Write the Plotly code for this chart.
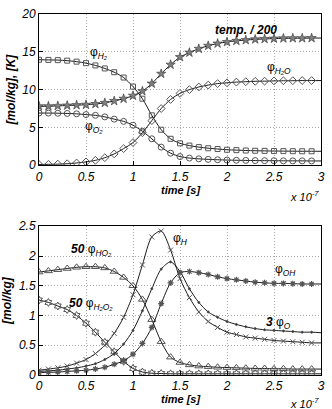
import plotly.graph_objects as go

# time axis, in units of 1e-7 s
time = [0.0, 0.1, 0.2, 0.3, 0.4, 0.5, 0.6, 0.7, 0.8, 0.9, 1.0, 1.1, 1.2, 1.3, 1.4, 1.5,
        1.6, 1.7, 1.8, 1.9, 2.0, 2.1, 2.2, 2.3, 2.4, 2.5, 2.6, 2.7, 2.8, 2.9, 3.0]
x_ticks = [0, 0.5, 1, 1.5, 2, 2.5, 3]
x_ticktext = ['0', '0.5', '1', '1.5', '2', '2.5', '3']

# top panel
temp_200 = [7.8, 7.8, 7.85, 7.9, 7.95, 8.0, 8.1, 8.25, 8.5, 8.8, 9.2, 9.8, 10.8, 12.1, 13.3, 14.3,
            14.9, 15.4, 15.8, 16.1, 16.3, 16.45, 16.55, 16.65, 16.7, 16.75, 16.78, 16.8, 16.8, 16.82, 16.82]
phi_h2 = [13.95, 13.93, 13.9, 13.83, 13.7, 13.5, 13.2, 12.8, 12.3, 11.6, 10.4, 8.8, 6.6, 4.7, 3.5, 2.9,
          2.6, 2.4, 2.25, 2.15, 2.05, 2.0, 1.95, 1.92, 1.9, 1.88, 1.87, 1.86, 1.85, 1.85, 1.85]
phi_o2 = [6.9, 6.9, 6.88, 6.85, 6.8, 6.7, 6.6, 6.4, 6.1, 5.8, 5.3, 4.5, 3.5, 2.4, 1.6, 1.15,
          0.95, 0.85, 0.78, 0.73, 0.69, 0.66, 0.64, 0.62, 0.61, 0.6, 0.59, 0.58, 0.58, 0.57, 0.57]
phi_h2o = [0.1, 0.12, 0.15, 0.2, 0.3, 0.45, 0.65, 1.0, 1.5, 2.2, 3.0, 4.3, 5.9, 7.5, 8.7, 9.5,
           10.0, 10.35, 10.6, 10.8, 10.9, 11.0, 11.05, 11.1, 11.12, 11.15, 11.17, 11.18, 11.2, 11.2, 11.2]

# bottom panel
phi_h = [0.08, 0.1, 0.12, 0.15, 0.2, 0.26, 0.36, 0.5, 0.7, 0.97, 1.35, 1.85, 2.32, 2.42, 2.1, 1.62,
         1.3, 1.06, 0.9, 0.8, 0.72, 0.68, 0.64, 0.62, 0.6, 0.58, 0.57, 0.56, 0.55, 0.54, 0.54]
three_phi_o = [0.06, 0.07, 0.08, 0.1, 0.12, 0.15, 0.19, 0.26, 0.36, 0.52, 0.75, 1.08, 1.45, 1.78, 1.9, 1.74,
               1.45, 1.22, 1.06, 0.97, 0.9, 0.85, 0.81, 0.78, 0.76, 0.75, 0.74, 0.73, 0.72, 0.72, 0.71]
phi_oh = [0.04, 0.045, 0.05, 0.06, 0.07, 0.08, 0.1, 0.13, 0.18, 0.24, 0.35, 0.53, 0.8, 1.2, 1.55, 1.72,
          1.74, 1.72, 1.69, 1.65, 1.62, 1.6, 1.58, 1.56, 1.55, 1.54, 1.54, 1.535, 1.53, 1.53, 1.53]
phi_ho2_50 = [1.73, 1.75, 1.77, 1.79, 1.81, 1.82, 1.82, 1.8, 1.74, 1.64, 1.5, 1.27, 0.93, 0.56, 0.3, 0.21,
              0.17, 0.15, 0.14, 0.13, 0.125, 0.12, 0.115, 0.11, 0.11, 0.105, 0.105, 0.1, 0.1, 0.1, 0.1]
phi_h2o2_50 = [1.26, 1.22, 1.16, 1.1, 1.0, 0.87, 0.72, 0.55, 0.39, 0.23, 0.11, 0.05, 0.03, 0.025, 0.02, 0.02,
               0.02, 0.02, 0.02, 0.02, 0.02, 0.02, 0.02, 0.02, 0.02, 0.02, 0.02, 0.02, 0.02, 0.02, 0.02]

FONT = 'Liberation Sans, Arial, sans-serif'
MARKER_GREY = '#555555'

fig = go.Figure()


def add_series(y, symbol, size, xaxis, yaxis, fill=None, edge=MARKER_GREY, edge_w=1):
    """Smooth black line through all points, grey markers on all but the last."""
    fig.add_trace(go.Scatter(
        x=time, y=y, mode='lines', xaxis=xaxis, yaxis=yaxis,
        line=dict(color='black', width=0.9, shape='spline', smoothing=0.8),
        showlegend=False, hoverinfo='skip'))
    fig.add_trace(go.Scatter(
        x=time[:-1], y=y[:-1], mode='markers', xaxis=xaxis, yaxis=yaxis,
        marker=dict(symbol=symbol, size=size, color=fill or MARKER_GREY,
                    line=dict(color=edge, width=edge_w)),
        showlegend=False))


add_series(temp_200, 'star', 7, 'x', 'y', fill='#808080', edge='#333333', edge_w=0.6)
add_series(phi_h2, 'square-open', 5, 'x', 'y')
add_series(phi_o2, 'circle-open', 6, 'x', 'y')
add_series(phi_h2o, 'diamond-open', 6, 'x', 'y')

add_series(phi_h2o2_50, 'hexagram-open', 6, 'x2', 'y2')
add_series(phi_ho2_50, 'triangle-up-open', 7, 'x2', 'y2')
add_series(phi_h, 'x-thin-open', 5, 'x2', 'y2')
add_series(three_phi_o, 'circle', 2, 'x2', 'y2', fill='#222222')
add_series(phi_oh, 'asterisk-open', 5, 'x2', 'y2', edge='#333333', edge_w=1.2)

axis_common = dict(
    showline=True, linecolor='black', linewidth=1, mirror=True,
    ticks='inside', ticklen=4, tickcolor='black',
    showgrid=True, gridcolor='#a8a8a8', griddash='1px,2px', gridwidth=1,
    zeroline=False, ticklabeloverflow='allow',
    tickfont=dict(family=FONT, size=12, color='black', style='italic'),
)
title_font = dict(family=FONT, size=12, color='black', weight='bold', style='italic')
x_axis = dict(axis_common, domain=[0, 1], range=[0, 3], tickmode='array',
              tickvals=x_ticks, ticktext=x_ticktext)

fig.update_layout(
    width=332, height=409,
    margin=dict(l=37, r=7, t=10, b=34),
    plot_bgcolor='white', paper_bgcolor='white',
    font=dict(family=FONT),
    xaxis=dict(x_axis, anchor='y'),
    yaxis=dict(axis_common, domain=[0.581, 1.0], anchor='x', range=[0, 20], dtick=5,
               title=dict(text='[mol/kg], [K]', font=title_font, standoff=3)),
    xaxis2=dict(x_axis, anchor='y2'),
    yaxis2=dict(axis_common, domain=[0, 0.412], anchor='x2', range=[0, 2.5], dtick=0.5,
                title=dict(text='[mol/kg]', font=title_font, standoff=3)),
)

lab = dict(family=FONT, size=12, color='black')
labels = [
    ('x', 'y', 0.64, 14.9, 'φ<sub><i>H₂</i></sub>'),
    ('x', 'y', 2.2, 17.9, '<b><i>temp. / 200</i></b>'),
    ('x', 'y', 2.55, 12.9, 'φ<sub><i>H₂O</i></sub>'),
    ('x', 'y', 0.58, 5.0, 'φ<sub><i>O₂</i></sub>'),
    ('x2', 'y2', 0.56, 2.1, '<b><i>50</i></b> φ<sub><i>HO₂</i></sub>'),
    ('x2', 'y2', 0.55, 1.2, '<b><i>50</i></b> φ<sub><i>H₂O₂</i></sub>'),
    ('x2', 'y2', 1.5, 2.28, 'φ<sub><i>H</i></sub>'),
    ('x2', 'y2', 2.62, 1.76, 'φ<sub><i>OH</i></sub>'),
    ('x2', 'y2', 2.55, 0.88, '<b><i>3</i></b> φ<sub><i>O</i></sub>'),
]
for xr, yr, xv, yv, txt in labels:
    fig.add_annotation(x=xv, y=yv, xref=xr, yref=yr, text=txt, showarrow=False, font=lab)

# x-axis titles and the exponent note, placed by hand like MATLAB does
for ypos in [0.512, -0.066]:
    fig.add_annotation(x=0.5, y=ypos, xref='paper', yref='paper', xanchor='center', yanchor='middle',
                       text='<b><i>time [s]</i></b>', showarrow=False,
                       font=dict(family=FONT, size=11, color='black'))
for ypos in [0.497, -0.077]:
    fig.add_annotation(x=1.0, y=ypos, xref='paper', yref='paper', xanchor='right', yanchor='middle',
                       text='<i>x 10<sup>-7</sup></i>', showarrow=False,
                       font=dict(family=FONT, size=11, color='black'))

# drop the browser's default 8px body margin so the figure sits at the window corner
fig.write_html("out.html", config={'displayModeBar': False},
               post_script="document.body.style.margin='0';")
